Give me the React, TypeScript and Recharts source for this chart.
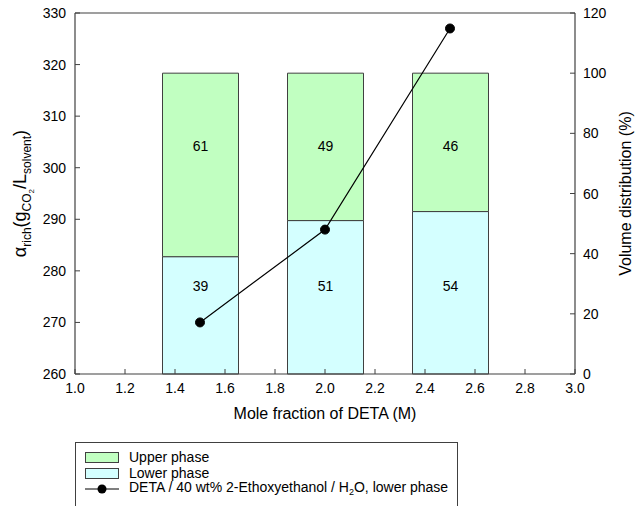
import {
  ComposedChart,
  XAxis,
  YAxis,
  Bar,
  Line,
  LabelList,
  ReferenceLine,
  Legend,
} from 'recharts';

const moleFractions = [1.5, 2.0, 2.5];
const lowerPhase = [39, 51, 54];
const upperPhase = [61, 49, 46];
const alphaRich = [270, 288, 327];

const xTicks = [1.0, 1.2, 1.4, 1.6, 1.8, 2.0, 2.2, 2.4, 2.6, 2.8, 3.0];
const leftTicks = [260, 270, 280, 290, 300, 310, 320, 330];
const rightTicks = [0, 20, 40, 60, 80, 100, 120];

const FONT = '"Liberation Sans", Arial, sans-serif';
const AXIS = '#404040';
const UPPER = '#c1ffc1';
const LOWER = '#d4ffff';

const data = moleFractions.map((x, i) => ({
  x,
  lower: lowerPhase[i],
  upper: upperPhase[i],
  alpha: alphaRich[i],
}));

const XTick = (props: any) => {
  const { x, y, payload } = props;
  return (
    <g>
      <line x1={x} y1={y} x2={x} y2={y - 5} stroke={AXIS} />
      <text x={x} y={y + 19} textAnchor="middle" fontSize={14} fill="#000" fontFamily={FONT}>
        {payload.value.toFixed(1)}
      </text>
    </g>
  );
};

const LeftTick = (props: any) => {
  const { x, y, payload } = props;
  return (
    <g>
      <line x1={x} y1={y} x2={x + 5} y2={y} stroke={AXIS} />
      <text x={x - 9} y={y + 5} textAnchor="end" fontSize={14} fill="#000" fontFamily={FONT}>
        {payload.value}
      </text>
    </g>
  );
};

const RightTick = (props: any) => {
  const { x, y, payload } = props;
  return (
    <g>
      <line x1={x} y1={y} x2={x - 5} y2={y} stroke={AXIS} />
      <text x={x + 8} y={y + 5} textAnchor="start" fontSize={14} fill="#000" fontFamily={FONT}>
        {payload.value}
      </text>
    </g>
  );
};

const LeftLabel = (props: any) => {
  const vb = props.viewBox;
  const cx = vb.x + 26;
  const cy = vb.y + vb.height / 2;
  return (
    <text
      x={cx}
      y={cy}
      transform={`rotate(-90, ${cx}, ${cy})`}
      textAnchor="middle"
      fontSize={18}
      fontFamily={FONT}
      fill="#000"
    >
      α
      <tspan fontSize={12} dy={5}>rich</tspan>
      <tspan fontSize={18} dy={-5}>(g</tspan>
      <tspan fontSize={12} dy={5}>CO</tspan>
      <tspan fontSize={8} dy={3}>2</tspan>
      <tspan fontSize={18} dy={-8}>/L</tspan>
      <tspan fontSize={12} dy={5}>solvent</tspan>
      <tspan fontSize={18} dy={-5}>)</tspan>
    </text>
  );
};

const RightLabel = (props: any) => {
  const vb = props.viewBox;
  const cx = vb.x + 56;
  const cy = vb.y + vb.height / 2;
  return (
    <text
      x={cx}
      y={cy}
      transform={`rotate(-90, ${cx}, ${cy})`}
      textAnchor="middle"
      fontSize={16}
      fontFamily={FONT}
      fill="#000"
    >
      Volume distribution (%)
    </text>
  );
};

const BottomLabel = (props: any) => {
  const vb = props.viewBox;
  return (
    <text x={vb.x + vb.width / 2} y={vb.y + 45} textAnchor="middle" fontSize={16} fontFamily={FONT} fill="#000">
      Mole fraction of DETA (M)
    </text>
  );
};

// segment labels sit a fixed distance from the bar base / bar top, like the original
const LowerValue = (props: any) => {
  const { x, y, width, height, value } = props;
  return (
    <text x={x + width / 2} y={y + height - 83} textAnchor="middle" fontSize={14} fontFamily={FONT} fill="#000">
      {value}
    </text>
  );
};

const UpperValue = (props: any) => {
  const { x, y, width, value } = props;
  return (
    <text x={x + width / 2} y={y + 78} textAnchor="middle" fontSize={14} fontFamily={FONT} fill="#000">
      {value}
    </text>
  );
};

const LegendBox = () => {
  const row = { display: 'flex', alignItems: 'center', height: 15.5 } as const;
  const swatch = (c: string) => ({
    width: 32,
    height: 9,
    background: c,
    border: `1px solid ${AXIS}`,
    marginRight: 10,
  });
  return (
    <div
      style={{
        border: `1px solid ${AXIS}`,
        width: 383,
        height: 80,
        boxSizing: 'border-box',
        padding: '7px 0 0 9px',
        fontFamily: FONT,
        fontSize: 14,
        color: '#000',
        lineHeight: '13px',
        textAlign: 'left',
        background: '#fff',
      }}
    >
      <div style={row}>
        <div style={swatch(UPPER)} />
        <span>Upper phase</span>
      </div>
      <div style={row}>
        <div style={swatch(LOWER)} />
        <span>Lower phase</span>
      </div>
      <div style={row}>
        <svg width={34} height={12} style={{ marginRight: 10 }}>
          <line x1={0} y1={6} x2={34} y2={6} stroke="#000" strokeWidth={1.2} />
          <circle cx={17} cy={6} r={4.5} fill="#000" />
        </svg>
        <span>
          DETA / 40 wt% 2-Ethoxyethanol / H<span style={{ fontSize: 9, position: 'relative', top: 3 }}>2</span>O, lower phase
        </span>
      </div>
    </div>
  );
};

export default function App() {
  return (
    <div style={{ position: 'absolute', left: 0, top: 0, width: 639, height: 506, background: '#fff', overflow: 'hidden' }}>
      <ComposedChart width={639} height={506} data={data} margin={{ top: 13, right: 0, bottom: 0, left: 0 }}>
        <XAxis
          dataKey="x"
          type="number"
          domain={[1, 3]}
          ticks={xTicks}
          interval={0}
          height={132}
          tickSize={0}
          tickMargin={0}
          tickLine={false}
          tick={XTick}
          axisLine={{ stroke: AXIS, strokeWidth: 1.2 }}
          label={BottomLabel}
        />
        <YAxis
          yAxisId="left"
          orientation="left"
          type="number"
          domain={[260, 330]}
          ticks={leftTicks}
          interval={0}
          width={75}
          tickSize={0}
          tickMargin={0}
          tickLine={false}
          tick={LeftTick}
          axisLine={{ stroke: AXIS, strokeWidth: 1.2 }}
          label={LeftLabel}
        />
        <YAxis
          yAxisId="right"
          orientation="right"
          type="number"
          domain={[0, 120]}
          ticks={rightTicks}
          interval={0}
          width={64}
          tickSize={0}
          tickMargin={0}
          tickLine={false}
          tick={RightTick}
          axisLine={{ stroke: AXIS, strokeWidth: 1.2 }}
          label={RightLabel}
        />
        <ReferenceLine yAxisId="left" y={330} stroke={AXIS} strokeWidth={1.2} />
        <Bar
          yAxisId="right"
          dataKey="lower"
          stackId="vol"
          fill={LOWER}
          stroke={AXIS}
          strokeWidth={1}
          barSize={76}
          isAnimationActive={false}
        >
          <LabelList dataKey="lower" content={LowerValue} />
        </Bar>
        <Bar
          yAxisId="right"
          dataKey="upper"
          stackId="vol"
          fill={UPPER}
          stroke={AXIS}
          strokeWidth={1}
          barSize={76}
          isAnimationActive={false}
        >
          <LabelList dataKey="upper" content={UpperValue} />
        </Bar>
        <Line
          yAxisId="left"
          dataKey="alpha"
          stroke="#000"
          strokeWidth={1.2}
          dot={{ r: 4.5, fill: '#000', stroke: '#000', strokeWidth: 1 }}
          isAnimationActive={false}
        />
        <Legend
          layout="horizontal"
          verticalAlign="middle"
          content={LegendBox}
          wrapperStyle={{ position: 'absolute', left: 75, top: 442, width: 384 }}
        />
      </ComposedChart>
    </div>
  );
}
